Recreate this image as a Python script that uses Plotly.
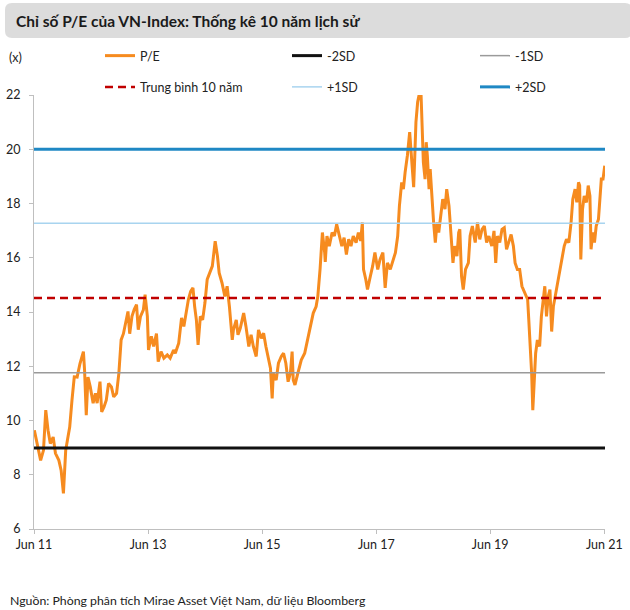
import pandas as pd
import plotly.graph_objects as go

# ---------------- data ----------------
# time as decimal year, P/E value
pe_time = [
    2011.42, 2011.47, 2011.53, 2011.58, 2011.62, 2011.66, 2011.70, 2011.75, 2011.79, 2011.85,
    2011.89, 2011.93, 2011.97, 2012.00, 2012.04, 2012.08, 2012.12, 2012.17, 2012.22, 2012.28,
    2012.30, 2012.33, 2012.36, 2012.40, 2012.45, 2012.49, 2012.52, 2012.57, 2012.60, 2012.64,
    2012.68, 2012.72, 2012.77, 2012.81, 2012.86, 2012.90, 2012.94, 2012.98, 2013.02, 2013.06,
    2013.09, 2013.13, 2013.17, 2013.21, 2013.24, 2013.28, 2013.33, 2013.36, 2013.40, 2013.42,
    2013.47, 2013.51, 2013.56, 2013.59, 2013.64, 2013.69, 2013.75, 2013.80, 2013.86, 2013.89,
    2013.95, 2014.00, 2014.04, 2014.08, 2014.12, 2014.16, 2014.20, 2014.23, 2014.26, 2014.29,
    2014.33, 2014.37, 2014.41, 2014.45, 2014.49, 2014.54, 2014.56, 2014.59, 2014.63, 2014.66,
    2014.71, 2014.76, 2014.80, 2014.84, 2014.89, 2014.91, 2014.96, 2014.99, 2015.03, 2015.09,
    2015.13, 2015.18, 2015.22, 2015.26, 2015.31, 2015.35, 2015.40, 2015.44, 2015.48, 2015.53,
    2015.56, 2015.59, 2015.61, 2015.66, 2015.70, 2015.75, 2015.79, 2015.83, 2015.87, 2015.91,
    2015.94, 2015.96, 2015.99, 2016.04, 2016.10, 2016.16, 2016.22, 2016.27, 2016.31, 2016.36,
    2016.39, 2016.43, 2016.46, 2016.47, 2016.51, 2016.52, 2016.55, 2016.59, 2016.64, 2016.68,
    2016.72, 2016.77, 2016.81, 2016.85, 2016.89, 2016.93, 2016.97, 2017.01, 2017.06, 2017.10,
    2017.14, 2017.17, 2017.19, 2017.23, 2017.26, 2017.31, 2017.35, 2017.39, 2017.44, 2017.48,
    2017.53, 2017.57, 2017.61, 2017.66, 2017.70, 2017.75, 2017.79, 2017.82, 2017.86, 2017.89,
    2017.92, 2017.96, 2018.00, 2018.02, 2018.04, 2018.07, 2018.09, 2018.11, 2018.14, 2018.17,
    2018.20, 2018.22, 2018.24, 2018.27, 2018.29, 2018.31, 2018.34, 2018.36, 2018.39, 2018.42,
    2018.45, 2018.48, 2018.51, 2018.55, 2018.58, 2018.62, 2018.65, 2018.69, 2018.72, 2018.76,
    2018.79, 2018.83, 2018.86, 2018.88, 2018.91, 2018.94, 2018.98, 2019.03, 2019.06, 2019.10,
    2019.15, 2019.19, 2019.23, 2019.27, 2019.31, 2019.35, 2019.39, 2019.44, 2019.48, 2019.51,
    2019.54, 2019.58, 2019.62, 2019.66, 2019.70, 2019.74, 2019.78, 2019.82, 2019.85, 2019.89,
    2019.93, 2019.97, 2020.02, 2020.07, 2020.09, 2020.12, 2020.14, 2020.16, 2020.19, 2020.21,
    2020.24, 2020.28, 2020.31, 2020.35, 2020.37, 2020.40, 2020.43, 2020.46, 2020.49, 2020.52,
    2020.55, 2020.59, 2020.63, 2020.68, 2020.71, 2020.75, 2020.79, 2020.83, 2020.86, 2020.90,
    2020.93, 2020.96, 2020.98, 2021.00, 2021.03, 2021.06, 2021.10, 2021.13, 2021.16, 2021.18,
    2021.21, 2021.24, 2021.27, 2021.31, 2021.34, 2021.36, 2021.39, 2021.42,
]
pe_value = [
    9.64, 9.15, 8.53, 8.90, 10.38, 9.64, 9.15, 9.39, 8.79, 8.53,
    8.16, 7.31, 8.90, 9.27, 9.76, 10.75, 11.61, 11.60, 12.10, 12.54,
    11.86, 10.20, 11.60, 11.24, 10.64, 11.00, 10.64, 11.43, 10.32, 10.50,
    10.75, 11.37, 11.24, 10.87, 11.00, 11.74, 12.97, 13.20, 13.60, 14.02,
    13.20, 13.84, 14.10, 14.27, 13.35, 13.84, 14.08, 14.64, 13.84, 12.60,
    13.10, 12.73, 13.20, 12.17, 12.54, 12.30, 12.42, 12.30, 12.60, 12.48,
    12.85, 13.78, 13.47, 13.96, 14.46, 14.76, 14.89, 14.20, 13.71, 12.79,
    13.84, 13.71, 14.33, 15.20, 15.44, 15.69, 16.06, 16.61, 16.06, 15.44,
    15.07, 14.57, 14.95, 14.20, 12.97, 13.34, 13.71, 13.16, 13.40, 13.96,
    13.47, 12.73, 13.16, 12.73, 12.36, 13.34, 13.03, 13.22, 12.73, 12.23,
    11.93, 10.81, 11.74, 11.49, 12.11, 12.36, 12.48, 12.11, 11.43, 11.74,
    12.54, 11.49, 11.31, 11.74, 12.23, 12.48, 13.10, 13.59, 13.96, 14.20,
    14.58, 15.60, 16.60, 16.93, 16.19, 15.85, 16.80, 16.43, 16.93, 16.80,
    17.23, 16.80, 16.43, 16.74, 16.12, 16.68, 16.43, 16.80, 16.56, 16.93,
    16.62, 17.30, 15.57, 15.20, 14.83, 15.32, 15.69, 16.19, 15.57, 15.94,
    16.19, 14.89, 15.81, 15.57, 15.81, 16.19, 16.80, 17.91, 18.78, 18.53,
    19.15, 19.77, 20.63, 20.14, 19.40, 18.60, 19.77, 21.00, 21.74, 22.05,
    21.99, 21.00, 19.52, 18.90, 20.26, 19.77, 18.53, 19.27, 18.16, 17.30,
    16.56, 17.30, 16.93, 17.79, 18.16, 17.79, 18.53, 17.91, 16.93, 15.81,
    16.43, 16.06, 16.93, 17.05, 15.32, 14.83, 15.57, 15.81, 16.80, 17.17,
    16.56, 17.30, 16.68, 17.05, 17.17, 16.56, 16.80, 16.43, 16.99, 15.81,
    16.80, 16.56, 17.05, 17.11, 16.31, 16.56, 16.86, 16.43, 15.81, 15.57,
    15.57, 14.95, 14.71, 14.46, 13.71, 12.73, 11.74, 10.38, 11.61, 12.48,
    12.97, 12.73, 13.84, 14.46, 14.95, 13.84, 14.57, 14.83, 13.28, 14.20,
    14.57, 14.95, 15.44, 16.06, 16.43, 16.68, 16.56, 17.30, 18.16, 18.53,
    18.04, 18.78, 18.66, 15.94, 17.79, 18.28, 18.04, 18.66, 18.28, 16.31,
    16.93, 16.56, 17.17, 17.42, 18.41, 18.90, 18.90, 19.39,
]

band_names = ["-2SD", "-1SD", "Trung bình 10 năm", "+1SD", "+2SD"]
band_values = [8.99, 11.76, 14.52, 17.27, 20.00]

x_tick_dates = ["2011-06-01", "2013-06-01", "2015-06-01", "2017-06-01", "2019-06-01", "2021-06-01"]
x_tick_labels = ["Jun 11", "Jun 13", "Jun 15", "Jun 17", "Jun 19", "Jun 21"]
y_ticks = [6, 8, 10, 12, 14, 16, 18, 20, 22]

# ---------------- helpers ----------------
def dec_to_ts(d):
    y = int(d)
    s = pd.Timestamp(year=y, month=1, day=1)
    e = pd.Timestamp(year=y + 1, month=1, day=1)
    return s + (e - s) * (d - y)

dates = [dec_to_ts(d) for d in pe_time]
x_start = pd.Timestamp("2011-06-01")
x_end = pd.Timestamp("2021-06-05")

FONT = "Lato"
W, H = 630, 610
L, R, T, B = 34, 25, 95, 81
pw, ph = W - L - R, H - T - B

def px(x):
    return (x - L) / pw

def py(y):
    return (H - B - y) / ph

band_styles = {
    "-2SD": dict(color="#111111", width=3),
    "-1SD": dict(color="#9a9a9a", width=1.5),
    "Trung bình 10 năm": dict(color="#c00000", width=2.5, dash="8px,5px"),
    "+1SD": dict(color="#a8d4ef", width=1.5),
    "+2SD": dict(color="#1f88c4", width=3),
}
band_legend = {"-2SD": "legend2", "-1SD": "legend3", "Trung bình 10 năm": "legend",
               "+1SD": "legend2", "+2SD": "legend3"}
band_rank = {"-2SD": 1, "-1SD": 1, "Trung bình 10 năm": 2, "+1SD": 2, "+2SD": 2}

fig = go.Figure()
fig.add_trace(go.Scatter(
    x=dates, y=pe_value, mode="lines", name="P/E",
    line=dict(color="#f68b1f", width=3), legend="legend", legendrank=1,
    legendgroup="pe",
))
for name, val in zip(band_names, band_values):
    fig.add_trace(go.Scatter(
        x=[x_start, x_end], y=[val, val], mode="lines", name=name,
        line=band_styles[name], legend=band_legend[name],
        legendrank=band_rank[name], legendgroup=name,
    ))

leg_common = dict(
    orientation="v", yanchor="top", xanchor="left", y=py(41),
    bgcolor="rgba(0,0,0,0)", font=dict(family=FONT, size=12.5, color="#222222"),
    tracegroupgap=12, traceorder="grouped",
)
fig.update_layout(
    width=W, height=H,
    margin=dict(l=L, r=R, t=T, b=B, autoexpand=False),
    paper_bgcolor="white", plot_bgcolor="white",
    font=dict(family=FONT, size=12, color="#222222"),
    showlegend=True,
    legend=dict(x=px(100), **leg_common),
    legend2=dict(x=px(287), **leg_common),
    legend3=dict(x=px(475), **leg_common),
    xaxis=dict(
        type="date", range=[x_start, x_end],
        tickmode="array", tickvals=x_tick_dates, ticktext=x_tick_labels,
        showgrid=False, zeroline=False,
        showline=True, linecolor="#bfbfbf", linewidth=1,
        ticks="outside", ticklen=4, tickcolor="#bfbfbf",
        tickfont=dict(family=FONT, size=12.5, color="#222222"),
    ),
    yaxis=dict(
        range=[6, 22], tickmode="array", tickvals=y_ticks,
        showgrid=False, zeroline=False,
        showline=True, linecolor="#bfbfbf", linewidth=1,
        ticks="outside", ticklen=4, tickcolor="#bfbfbf",
        ticklabelstandoff=6,
        tickfont=dict(family=FONT, size=12.5, color="#222222"),
    ),
)

# title box
x0, x1, y0, y1 = px(5), px(632), py(38), py(3)
rx, ry = 7 / pw, 7 / ph
path = (f"M {x0+rx},{y1} L {x1-rx},{y1} Q {x1},{y1} {x1},{y1-ry} L {x1},{y0+ry} "
        f"Q {x1},{y0} {x1-rx},{y0} L {x0+rx},{y0} Q {x0},{y0} {x0},{y0+ry} "
        f"L {x0},{y1-ry} Q {x0},{y1} {x0+rx},{y1} Z")
fig.add_shape(type="path", path=path, xref="paper", yref="paper",
              fillcolor="#dcdcdc", line=dict(width=0), layer="below")

fig.add_annotation(
    text="<b>Chỉ số P/E của VN-Index: Thống kê 10 năm lịch sử</b>",
    xref="paper", yref="paper", x=px(14), y=py(21), xanchor="left", yanchor="middle",
    showarrow=False, font=dict(family=FONT, size=15.5, color="#1a1a1a"),
)
fig.add_annotation(
    text="(x)", xref="paper", yref="paper", x=px(15), y=py(57),
    xanchor="center", yanchor="middle", showarrow=False,
    font=dict(family=FONT, size=12.5, color="#222222"),
)
fig.add_annotation(
    text="Nguồn: Phòng phân tích Mirae Asset Việt Nam, dữ liệu Bloomberg",
    xref="paper", yref="paper", x=px(8), y=py(600), xanchor="left", yanchor="middle",
    showarrow=False, font=dict(family=FONT, size=12.3, color="#222222"),
)

fig.write_html(
    "out.html",
    config={"displayModeBar": False},
    post_script="document.body.style.margin='0';document.body.style.overflow='hidden';",
)
